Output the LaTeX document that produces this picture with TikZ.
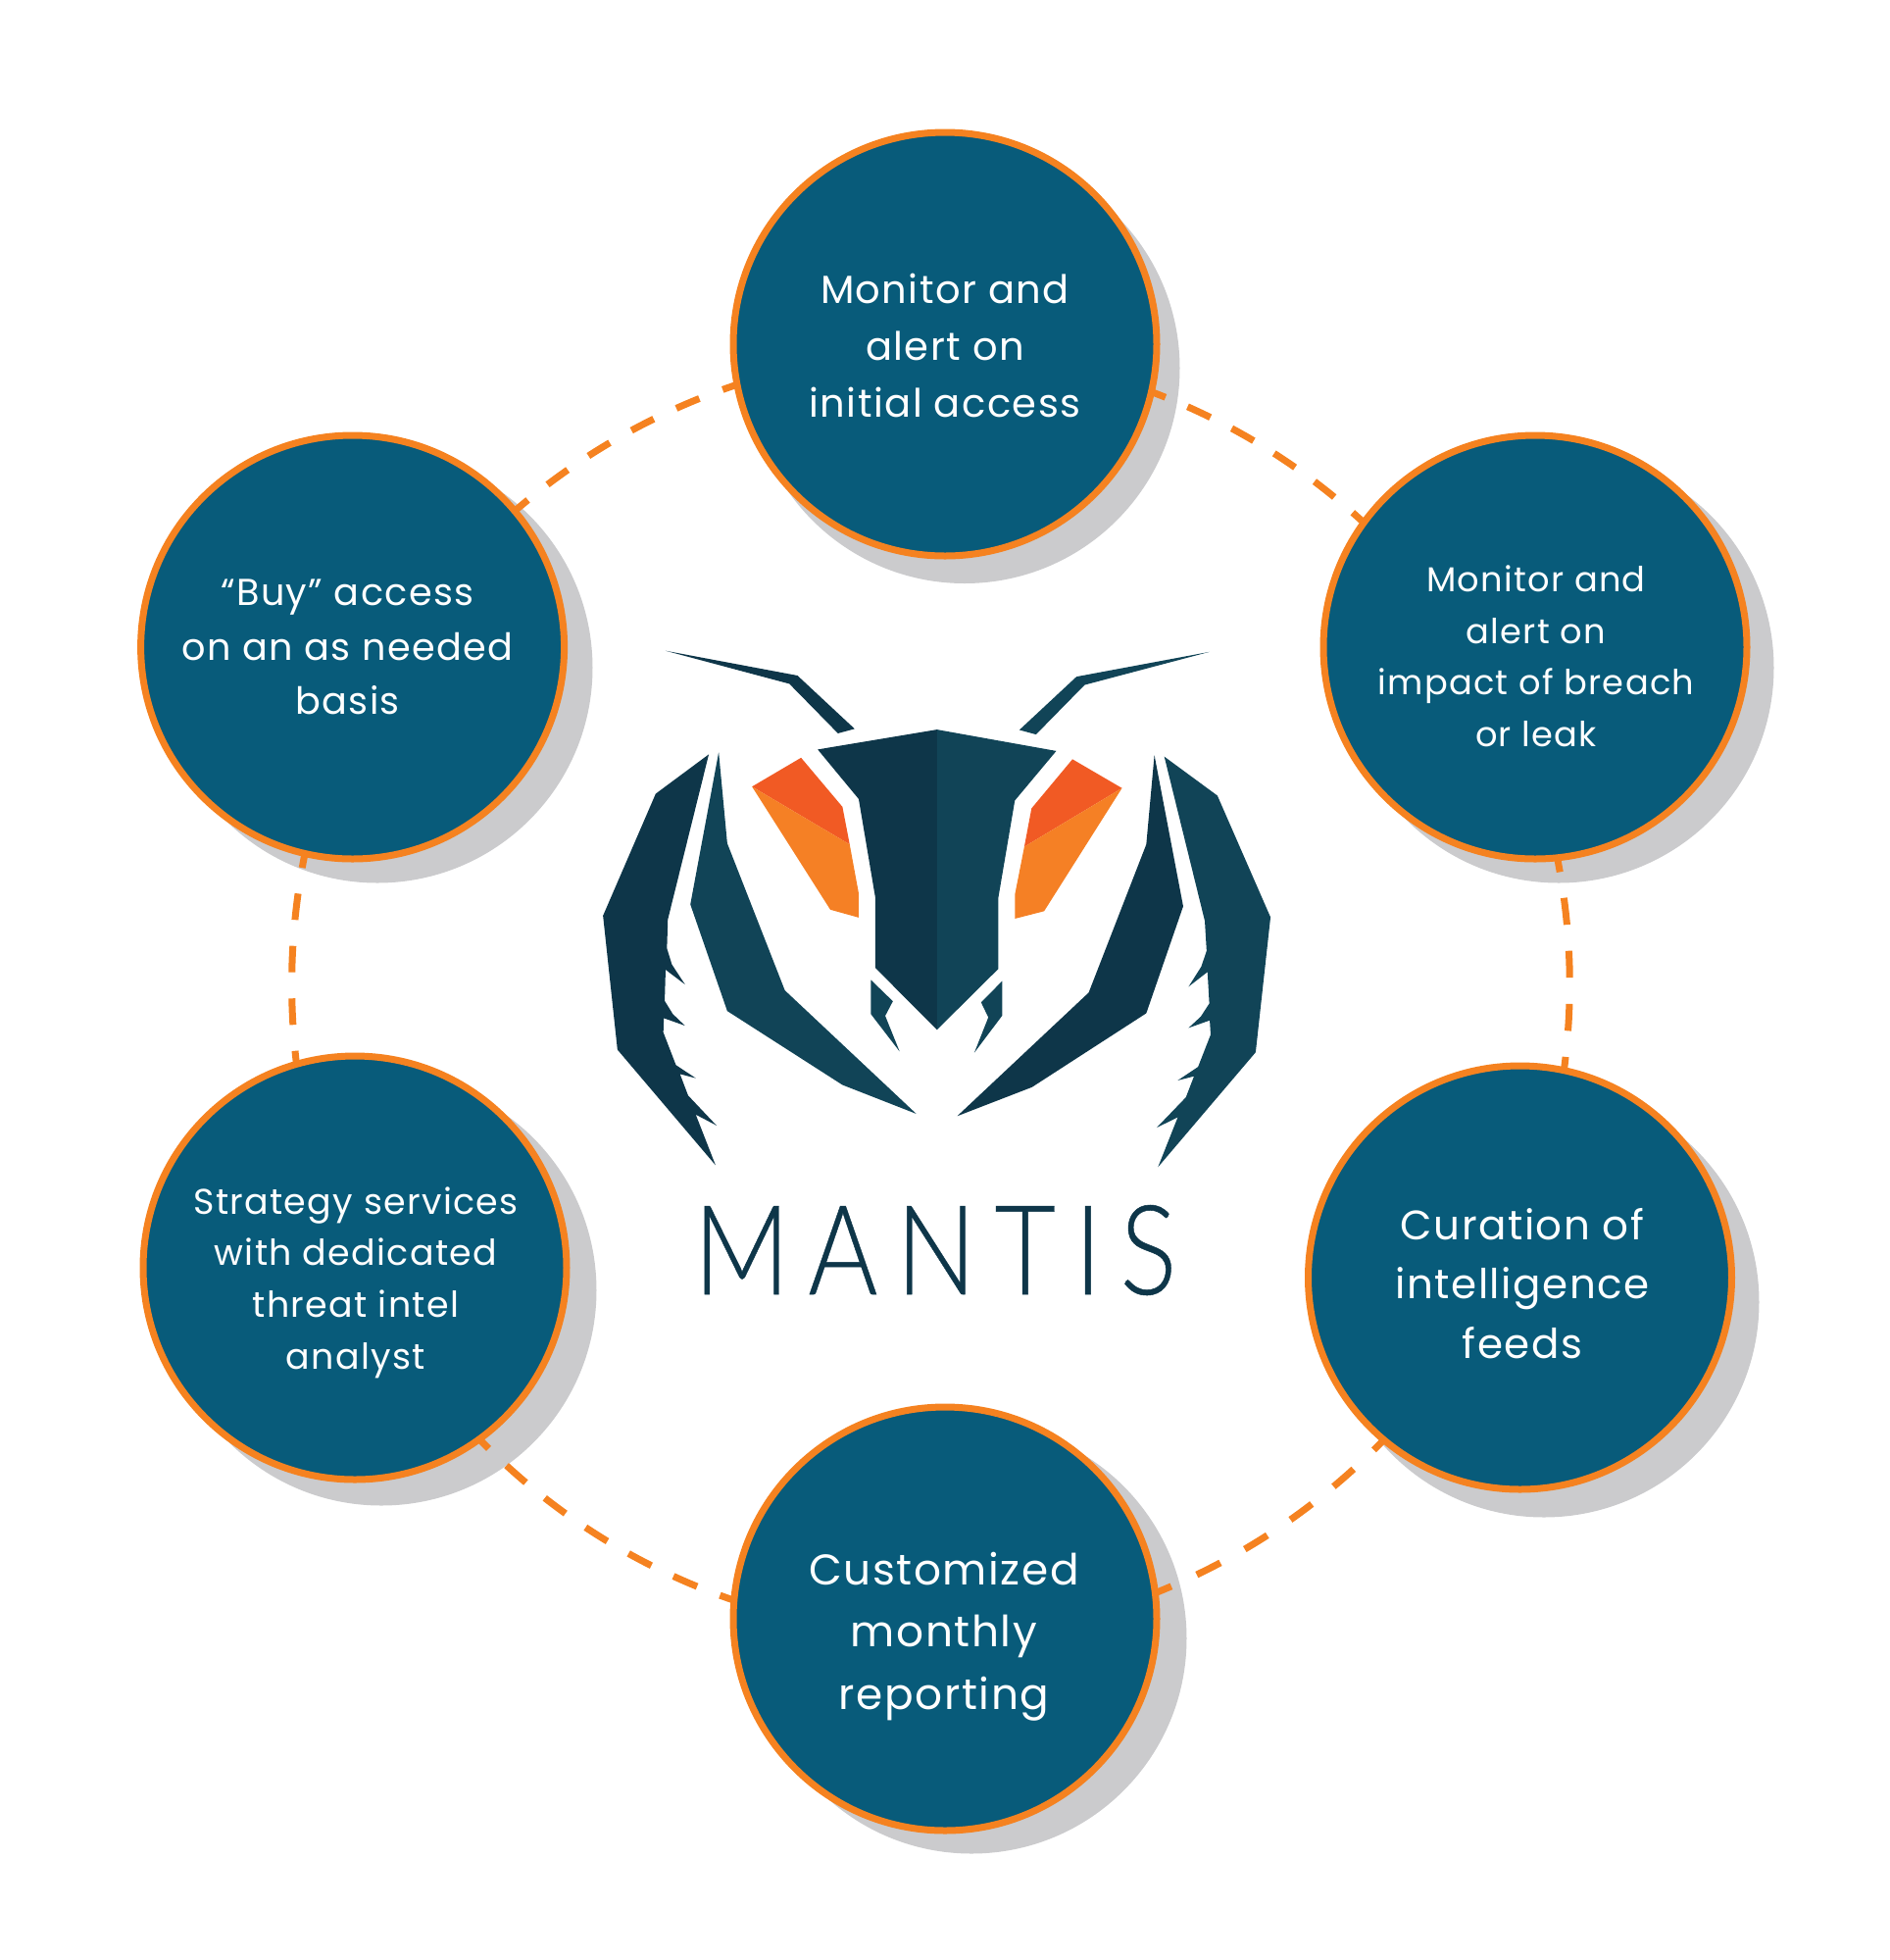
\documentclass[tikz,border=0pt]{standalone}
\usepackage{fontspec}
\newfontfamily\bodyf[LetterSpace=3.6]{Poppins}
\newfontfamily\logof[LetterSpace=17.3,FakeBold=0.4]{Lato Light}
\definecolor{disc}{HTML}{085B7A}
\definecolor{ring}{HTML}{F58220}
\definecolor{shade}{HTML}{CBCBCD}
\definecolor{logodark}{HTML}{0E3649}
\definecolor{logolite}{HTML}{114457}
\definecolor{eyered}{HTML}{F15A24}
\definecolor{eyeorange}{HTML}{F58025}
\pgfdeclarelayer{shadowlayer}
\pgfdeclarelayer{dashlayer}
\pgfsetlayers{shadowlayer,dashlayer,main}
\tikzset{
  disk/.style={circle,draw=ring,fill=disc,line width=3.5pt,minimum size=216pt,inner sep=0pt,outer sep=0pt},
  txt/.style={text=white,align=center,inner sep=0pt},
  shadowdisk/.style={circle,fill=shade,minimum size=219.5pt,inner sep=0pt,outer sep=0pt},
  link/.style={draw=ring,line width=3.5pt,looseness=0.87},
}
\begin{document}
\begin{tikzpicture}[x=0.5pt,y=-0.5pt]
\useasboundingbox (0,0) rectangle (1928,1999);
% discs
\node[disk] (top) at (964,351) {};
\node[disk] (rt) at (1566,660) {};
\node[disk] (rb) at (1550.5,1303) {};
\node[disk] (bot) at (964,1651) {};
\node[disk] (lb) at (362,1293) {};
\node[disk] (lt) at (359.6,660) {};
% text
\node[txt,font=\bodyf\fontsize{20}{29}\selectfont] (ttop) at (964,352.6) {Monitor and\\alert on\\initial access};
\node[txt,font=\bodyf\fontsize{17.6}{26.35}\selectfont] (trt) at (1567,669.4) {Monitor and\\alert on\\impact of breach\\or leak};
\node[txt,font=\bodyf\fontsize{19.1}{27.75}\selectfont] (tlt) at (354.5,660) {“Buy” access\\on an as needed\\basis};
\node[txt,font=\bodyf\fontsize{18.2}{26.35}\selectfont] (tlb) at (363,1308) {Strategy services\\with dedicated\\threat intel\\analyst};
\node[txt,font=\bodyf\fontsize{21}{30.25}\selectfont] (trb) at (1553,1309) {Curation of\\intelligence\\feeds};
\node[txt,font=\bodyf\fontsize{21.9}{31.85}\selectfont] (tbot) at (963,1669) {Customized\\monthly\\reporting};
% shadows
\begin{pgfonlayer}{shadowlayer}
\node[shadowdisk] (stop) at (984,375.5) {};
\node[shadowdisk] (srt) at (1590,681) {};
\node[shadowdisk] (srb) at (1575,1328) {};
\node[shadowdisk] (sbot) at (991,1671) {};
\node[shadowdisk] (slb) at (389,1316) {};
\node[shadowdisk] (slt) at (385,681) {};
\end{pgfonlayer}
% dashed ring
\begin{pgfonlayer}{dashlayer}
\draw[link,dash pattern=on 12.85pt off 12.25pt,dash phase=5.1pt] (top.-13) to[bend left=10.9] (rt.144.4);
\draw[link,dash pattern=on 13.75pt off 13.35pt,dash phase=6.35pt] (rt.-84.6) to[bend left=9.3] (rb.78);
\draw[link,dash pattern=on 13.5pt off 14.25pt,dash phase=6.25pt] (rb.230.8) to[bend left=12] (bot.7.5);
\draw[link,dash pattern=on 13.15pt off 12.5pt,dash phase=5.5pt] (bot.175) to[bend left=13.5] (lb.-54.9);
\draw[link,dash pattern=on 13.5pt off 13.3pt,dash phase=6.65pt] (lb.106) to[bend left=9] (lt.257.6);
\draw[link,dash pattern=on 12.75pt off 12.75pt,dash phase=4pt] (lt.40.6) to[bend left=11] (top.191.3);
\end{pgfonlayer}
% logo
\begin{scope}[shift={(600,640)},x=0.22957pt,y=-0.19135pt]
\fill[logodark] (172,62)--(465,128)--(592,270)--(555,282)--(447,150)--cycle;
\fill[logolite] (1380,65)--(1085,131)--(958,273)--(995,285)--(1103,153)--cycle;
\fill[logodark] (510,325)--(775,272)--(775,1072)--(638,907)--(638,720)--(601,457)--cycle;
\fill[logolite] (775,272)--(1040,329)--(948,461)--(911,722)--(911,910)--(775,1072)--cycle;
\fill[eyered] (364,424)--(473,347)--(565,478)--(581,578)--cycle;
\fill[eyeorange] (364,424)--(581,578)--(601,708)--(601,773)--(538,752)--cycle;
\fill[eyered] (1186,428)--(1076,351)--(985,482)--(969,584)--cycle;
\fill[eyeorange] (1186,428)--(969,584)--(948,712)--(948,776)--(1013,756)--cycle;
\fill[logolite] (628,939)--(677,996)--(660,1035)--(692,1130)--(628,1030)--cycle;
\fill[logolite] (920,942)--(873,999)--(889,1039)--(858,1133)--(920,1034)--cycle;
\fill[logolite] (290,332)--(309,575)--(437,967)--(729,1296)--(565,1219)--(309,1022)--(227,738)--cycle;
\fill[logodark] (1258,340)--(1240,578)--(1112,973)--(820,1302)--(986,1225)--(1240,1028)--(1322,743)--cycle;
\fill[logodark] (268,338)--(150,443)--(33,768)--(65,1125)--(283,1433)--(239,1298)--(285,1327)--(222,1247)--(204,1190)--(239,1201)--(195,1166)--(167,1079)--(168,1041)--(215,1061)--(188,1030)--(170,995)--(172,912)--(215,951)--(186,898)--(175,855)--(177,778)--cycle;
\fill[logolite] (1280,344)--(1398,448)--(1516,772)--(1483,1132)--(1266,1438)--(1310,1305)--(1263,1333)--(1328,1252)--(1346,1196)--(1310,1207)--(1355,1171)--(1383,1085)--(1381,1047)--(1334,1067)--(1361,1037)--(1380,1002)--(1376,918)--(1334,957)--(1362,904)--(1374,862)--(1370,782)--cycle;
\end{scope}
\node[text=logodark,inner sep=0pt,xscale=0.85,transform shape,font=\logof\fontsize{63.6}{64}\selectfont] (brand) at (954,1275) {MANTIS};
\end{tikzpicture}
\end{document}
